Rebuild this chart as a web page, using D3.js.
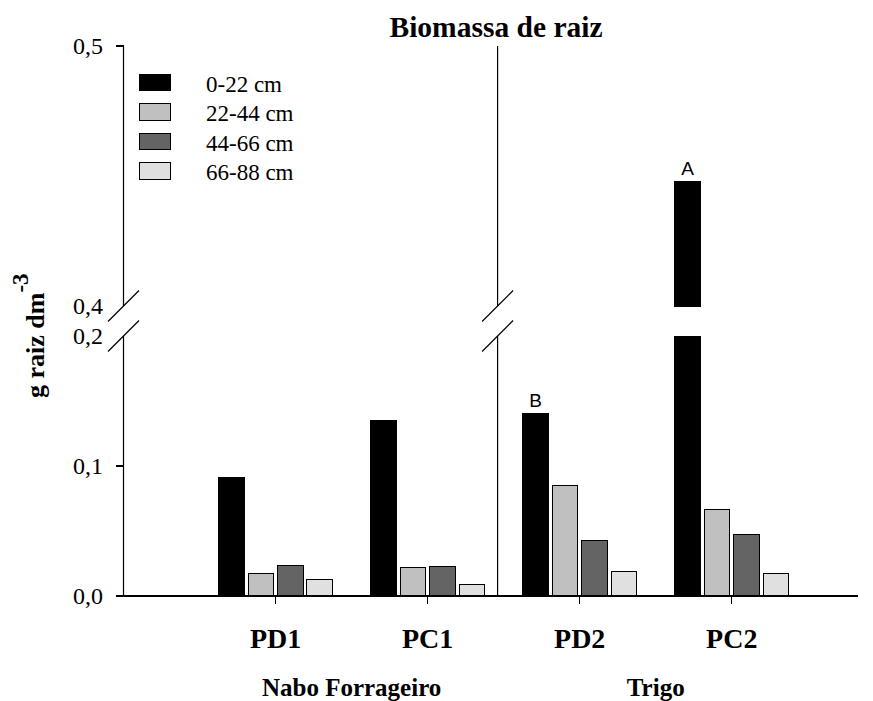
<!DOCTYPE html>
<html>
<head>
<meta charset="utf-8">
<script src="https://cdn.jsdelivr.net/npm/d3@7"></script>
<style>
  html, body { margin: 0; padding: 0; background: #fff; }
  svg { display: block; }
</style>
</head>
<body>
<svg id="chart" width="873" height="701"></svg>
<script>
// ---------- DATA ----------
const categories = ["PD1", "PC1", "PD2", "PC2"];
const categoryPos = [1, 2, 3, 4];
const seriesNames = ["0-22 cm", "22-44 cm", "44-66 cm", "66-88 cm"];
const values0_22  = [0.091, 0.135, 0.1405, 0.448];
const values22_44 = [0.0175, 0.0222, 0.085, 0.0665];
const values44_66 = [0.0236, 0.0226, 0.0425, 0.047];
const values66_88 = [0.0125, 0.0085, 0.0192, 0.0175];
const seriesColors = ["#000000", "#c0c0c0", "#646464", "#e0e0e0"];
const groupNames = ["Nabo Forrageiro", "Trigo"];
const groupPos = [1.5, 3.5];
const dividerPos = 2.46;
const lowerTicks = [0, 0.1, 0.2];
const lowerTickLabels = ["0,0", "0,1", "0,2"];
const upperTicks = [0.4, 0.5];
const upperTickLabels = ["0,4", "0,5"];
const letterLabels = [{ cat: "PD2", series: 0, text: "B" }, { cat: "PC2", series: 0, text: "A" }];
const breakLow = 0.2, breakHigh = 0.4;

const allSeries = [values0_22, values22_44, values44_66, values66_88];

// ---------- SCALES ----------
const svg = d3.select("#chart");
const x = d3.scaleLinear().domain([0, 4.83]).range([123.5, 858]);
const xInner = d3.scaleBand().domain(seriesNames).range([-57, 57]).paddingInner(0.13);
const yLow = d3.scaleLinear().domain([0, 0.2]).range([596, 336]);
const yHigh = d3.scaleLinear().domain([0.4, 0.5]).range([306, 46]);

const serif = "'Liberation Serif', 'Times New Roman', serif";

// ---------- BARS ----------
const bars = [];
seriesNames.forEach((s, si) => {
  categories.forEach((c, ci) => {
    bars.push({ series: s, si, cat: c, pos: categoryPos[ci], v: allSeries[si][ci] });
  });
});

const barG = svg.append("g");
bars.forEach(d => {
  const x0 = x(d.pos) + xInner(d.series);
  const w = xInner.bandwidth();
  const style = sel => sel.attr("fill", seriesColors[d.si])
      .attr("stroke", "#000").attr("stroke-width", 1).attr("shape-rendering", "crispEdges");
  if (d.v <= breakLow) {
    barG.append("rect").attr("x", x0).attr("width", w)
      .attr("y", yLow(d.v)).attr("height", yLow(0) - yLow(d.v)).call(style);
  } else {
    barG.append("rect").attr("x", x0).attr("width", w)
      .attr("y", yLow(breakLow)).attr("height", yLow(0) - yLow(breakLow)).call(style);
    barG.append("rect").attr("x", x0).attr("width", w)
      .attr("y", yHigh(d.v)).attr("height", yHigh(breakHigh) - yHigh(d.v)).call(style);
  }
});

// ---------- LETTER LABELS ----------
letterLabels.forEach(l => {
  const ci = categories.indexOf(l.cat);
  const v = allSeries[l.series][ci];
  const yy = v <= breakLow ? yLow(v) : yHigh(v);
  svg.append("text")
    .attr("x", x(categoryPos[ci]) + xInner(seriesNames[l.series]) + xInner.bandwidth() / 2)
    .attr("y", yy - 6)
    .attr("text-anchor", "middle")
    .attr("font-family", "'Liberation Sans', Arial, sans-serif")
    .attr("font-size", 19)
    .text(l.text);
});

// ---------- AXES ----------
const axG = svg.append("g").attr("stroke", "#000").attr("stroke-width", 1.2).attr("fill", "none");
function vSegments(xp) {
  axG.append("line").attr("x1", xp).attr("x2", xp).attr("y1", yLow(0)).attr("y2", yLow(breakLow));
  axG.append("line").attr("x1", xp).attr("x2", xp).attr("y1", yHigh(breakHigh)).attr("y2", yHigh(0.5));
  [yHigh(breakHigh), yLow(breakLow)].forEach(yy => {
    axG.append("line").attr("x1", xp - 15.5).attr("y1", yy + 15.5).attr("x2", xp + 15.5).attr("y2", yy - 15.5);
  });
}
vSegments(x(0));
vSegments(x(dividerPos));

axG.append("line").attr("x1", x(0)).attr("x2", x.range()[1]).attr("y1", yLow(0)).attr("y2", yLow(0))
  .attr("shape-rendering", "crispEdges");

categoryPos.forEach(p => {
  axG.append("line").attr("x1", x(p)).attr("x2", x(p)).attr("y1", yLow(0)).attr("y2", yLow(0) + 8)
    .attr("shape-rendering", "crispEdges");
});

lowerTicks.forEach(t => {
  if (t !== breakLow)
    axG.append("line").attr("x1", x(0) - 8).attr("x2", x(0)).attr("y1", yLow(t)).attr("y2", yLow(t))
      .attr("shape-rendering", "crispEdges");
});
upperTicks.forEach(t => {
  if (t !== breakHigh)
    axG.append("line").attr("x1", x(0) - 8).attr("x2", x(0)).attr("y1", yHigh(t)).attr("y2", yHigh(t))
      .attr("shape-rendering", "crispEdges");
});

const tl = svg.append("g").attr("font-family", serif).attr("font-size", 24).attr("text-anchor", "end");
lowerTicks.forEach((t, i) => {
  tl.append("text").attr("x", 103).attr("y", yLow(t)).attr("dy", "0.33em").text(lowerTickLabels[i]);
});
upperTicks.forEach((t, i) => {
  tl.append("text").attr("x", 103).attr("y", yHigh(t)).attr("dy", "0.33em").text(upperTickLabels[i]);
});

categories.forEach((c, i) => {
  svg.append("text").attr("x", x(categoryPos[i])).attr("y", 648)
    .attr("text-anchor", "middle").attr("font-family", serif).attr("font-weight", "bold")
    .attr("font-size", 28).text(c);
});

groupNames.forEach((g, i) => {
  svg.append("text").attr("x", x(groupPos[i])).attr("y", 696)
    .attr("text-anchor", "middle").attr("font-family", serif).attr("font-weight", "bold")
    .attr("font-size", 25).text(g);
});

svg.append("text").attr("x", 496).attr("y", 37)
  .attr("text-anchor", "middle").attr("font-family", serif).attr("font-weight", "bold")
  .attr("font-size", 29.5).text("Biomassa de raiz");

const yl = svg.append("text")
  .attr("transform", "translate(44,398) rotate(-90)")
  .attr("font-family", serif).attr("font-weight", "bold").attr("font-size", 26);
yl.append("tspan").text("g raiz dm");
yl.append("tspan").attr("dy", -16).attr("font-size", 23).text("-3");

// ---------- LEGEND ----------
const lg = svg.append("g");
seriesNames.forEach((s, i) => {
  const yy = 74 + i * 29.6;
  lg.append("rect").attr("x", 139).attr("y", yy).attr("width", 31).attr("height", 16.5)
    .attr("fill", seriesColors[i]).attr("stroke", "#000").attr("stroke-width", 1)
    .attr("shape-rendering", "crispEdges");
  lg.append("text").attr("x", 206).attr("y", yy + 17.5)
    .attr("font-family", serif).attr("font-size", 23).text(s);
});
</script>
</body>
</html>
